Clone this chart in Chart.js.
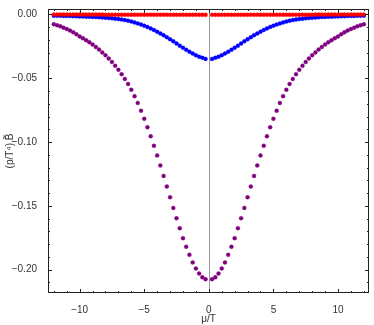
<!DOCTYPE html>
<html>
<head>
<meta charset="utf-8">
<script src="https://cdn.jsdelivr.net/npm/chart.js@4"></script>
<style>
body { margin: 0; background: #fff; }
#wrap { width: 374px; height: 325px; }
</style>
</head>
<body>
<div id="wrap"><canvas id="plot"></canvas></div>
<script>
var mu = [
    -12, -11.75, -11.5, -11.25, -11, -10.75, -10.5, -10.25,
    -10, -9.75, -9.5, -9.25, -9, -8.75, -8.5, -8.25,
    -8, -7.75, -7.5, -7.25, -7, -6.75, -6.5, -6.25,
    -6, -5.75, -5.5, -5.25, -5, -4.75, -4.5, -4.25,
    -4, -3.75, -3.5, -3.25, -3, -2.75, -2.5, -2.25,
    -2, -1.75, -1.5, -1.25, -1, -0.75, -0.5, -0.25,
    0.25, 0.5, 0.75, 1, 1.25, 1.5, 1.75, 2,
    2.25, 2.5, 2.75, 3, 3.25, 3.5, 3.75, 4,
    4.25, 4.5, 4.75, 5, 5.25, 5.5, 5.75, 6,
    6.25, 6.5, 6.75, 7, 7.25, 7.5, 7.75, 8,
    8.25, 8.5, 8.75, 9, 9.25, 9.5, 9.75, 10,
    10.25, 10.5, 10.75, 11, 11.25, 11.5, 11.75, 12
];

var redVals = [
    -0.0001, -0.0001, -0.0001, -0.0001, -0.0001, -0.0001, -0.0001, -0.0001,
    -0.0001, -0.0001, -0.0001, -0.0001, -0.0001, -0.0001, -0.0001, -0.0001,
    -0.0002, -0.0002, -0.0002, -0.0002, -0.0002, -0.0002, -0.0002, -0.0002,
    -0.0002, -0.0002, -0.0002, -0.0002, -0.0002, -0.0002, -0.0002, -0.0002,
    -0.0002, -0.0002, -0.0002, -0.0002, -0.0003, -0.0003, -0.0003, -0.0003,
    -0.0003, -0.0003, -0.0003, -0.0003, -0.0003, -0.0003, -0.0003, -0.0003,
    -0.0003, -0.0003, -0.0003, -0.0003, -0.0003, -0.0003, -0.0003, -0.0003,
    -0.0003, -0.0003, -0.0003, -0.0003, -0.0002, -0.0002, -0.0002, -0.0002,
    -0.0002, -0.0002, -0.0002, -0.0002, -0.0002, -0.0002, -0.0002, -0.0002,
    -0.0002, -0.0002, -0.0002, -0.0002, -0.0002, -0.0002, -0.0002, -0.0002,
    -0.0001, -0.0001, -0.0001, -0.0001, -0.0001, -0.0001, -0.0001, -0.0001,
    -0.0001, -0.0001, -0.0001, -0.0001, -0.0001, -0.0001, -0.0001, -0.0001
];

var blueVals = [
    -0.0009, -0.0009, -0.0010, -0.0011, -0.0011, -0.0012, -0.0013, -0.0014,
    -0.0015, -0.0016, -0.0017, -0.0018, -0.0019, -0.0020, -0.0022, -0.0024,
    -0.0026, -0.0028, -0.0030, -0.0033, -0.0036, -0.0040, -0.0044, -0.0049,
    -0.0055, -0.0062, -0.0070, -0.0079, -0.0088, -0.0098, -0.0109, -0.0122,
    -0.0135, -0.0149, -0.0162, -0.0178, -0.0194, -0.0210, -0.0227, -0.0245,
    -0.0261, -0.0277, -0.0292, -0.0306, -0.0319, -0.0331, -0.0340, -0.0348,
    -0.0348, -0.0340, -0.0331, -0.0319, -0.0306, -0.0292, -0.0277, -0.0261,
    -0.0245, -0.0227, -0.0210, -0.0194, -0.0178, -0.0162, -0.0149, -0.0135,
    -0.0122, -0.0109, -0.0098, -0.0088, -0.0079, -0.0070, -0.0062, -0.0055,
    -0.0049, -0.0044, -0.0040, -0.0036, -0.0033, -0.0030, -0.0028, -0.0026,
    -0.0024, -0.0022, -0.0020, -0.0019, -0.0018, -0.0017, -0.0016, -0.0015,
    -0.0014, -0.0013, -0.0012, -0.0011, -0.0011, -0.0010, -0.0009, -0.0009
];

var purpleVals = [
    -0.0076, -0.0084, -0.0093, -0.0103, -0.0114, -0.0126, -0.0140, -0.0155,
    -0.0172, -0.0186, -0.0201, -0.0217, -0.0235, -0.0254, -0.0275, -0.0297,
    -0.0320, -0.0345, -0.0373, -0.0402, -0.0434, -0.0468, -0.0505, -0.0545,
    -0.0590, -0.0640, -0.0693, -0.0754, -0.0818, -0.0884, -0.0955, -0.1029,
    -0.1105, -0.1183, -0.1265, -0.1349, -0.1433, -0.1516, -0.1597, -0.1676,
    -0.1753, -0.1821, -0.1884, -0.1943, -0.1991, -0.2031, -0.2060, -0.2075,
    -0.2075, -0.2060, -0.2031, -0.1991, -0.1943, -0.1884, -0.1821, -0.1753,
    -0.1676, -0.1597, -0.1516, -0.1433, -0.1349, -0.1265, -0.1183, -0.1105,
    -0.1029, -0.0955, -0.0884, -0.0818, -0.0754, -0.0693, -0.0640, -0.0590,
    -0.0545, -0.0505, -0.0468, -0.0434, -0.0402, -0.0373, -0.0345, -0.0320,
    -0.0297, -0.0275, -0.0254, -0.0235, -0.0217, -0.0201, -0.0186, -0.0172,
    -0.0155, -0.0140, -0.0126, -0.0114, -0.0103, -0.0093, -0.0084, -0.0076
];

var xTicks = [-10, -5, 0, 5, 10];
var yTicks = [0, -0.05, -0.1, -0.15, -0.2];

function pts(vals) {
    return mu.map(function (m, i) { return { x: m, y: vals[i] }; });
}

function minus(s) { return s.replace('-', '\u2212'); }

// frame with inward ticks on all four sides + gray line at mu = 0
var framePlugin = {
    id: 'frame',
    beforeDatasetsDraw: function (chart) {
        var c = chart.ctx, a = chart.chartArea;
        var xs = chart.scales.x;
        c.save();
        c.strokeStyle = '#999';
        c.lineWidth = 1;
        var x0 = Math.round(xs.getPixelForValue(0)) + 0.5;
        c.beginPath();
        c.moveTo(x0, a.top);
        c.lineTo(x0, a.bottom);
        c.stroke();
        c.restore();
    },
    afterDatasetsDraw: function (chart) {
        var c = chart.ctx, a = chart.chartArea;
        var xs = chart.scales.x, ys = chart.scales.y;
        c.save();
        c.strokeStyle = '#222';
        c.lineWidth = 1;
        c.strokeRect(a.left + 0.5, a.top + 0.5, a.right - a.left - 1, a.bottom - a.top - 1);
        c.beginPath();
        for (var v = -12; v <= 12; v++) {
            var len = (v % 5 === 0) ? 4 : 2;
            var px = Math.round(xs.getPixelForValue(v)) + 0.5;
            c.moveTo(px, a.bottom); c.lineTo(px, a.bottom - len);
            c.moveTo(px, a.top); c.lineTo(px, a.top + len);
        }
        for (var k = 0; k <= 21; k++) {
            var lenY = (k % 5 === 0) ? 4 : 2;
            var py = Math.round(ys.getPixelForValue(-k / 100)) + 0.5;
            c.moveTo(a.left, py); c.lineTo(a.left + lenY, py);
            c.moveTo(a.right, py); c.lineTo(a.right - lenY, py);
        }
        c.stroke();
        c.restore();
    }
};

var tickFont = { family: 'Liberation Sans', size: 10 };

new Chart(document.getElementById('plot').getContext('2d'), {
    type: 'scatter',
    data: {
        datasets: [{
            data: pts(redVals),
            backgroundColor: 'rgb(255, 0, 0)',
            borderColor: 'rgba(255, 0, 0, 0.35)',
            borderWidth: 1,
            pointRadius: 2
        }, {
            data: pts(blueVals),
            backgroundColor: 'rgb(0, 0, 255)',
            borderColor: 'rgba(0, 0, 255, 0.35)',
            borderWidth: 1,
            pointRadius: 2
        }, {
            data: pts(purpleVals),
            backgroundColor: 'rgb(128, 0, 128)',
            borderColor: 'rgba(128, 0, 128, 0.35)',
            borderWidth: 1,
            pointRadius: 2
        }]
    },
    options: {
        responsive: true,
        maintainAspectRatio: false,
        animation: false,
        layout: { padding: { top: 1, right: 2, left: 0, bottom: 0 } },
        plugins: { legend: { display: false }, tooltip: { enabled: false } },
        scales: {
            x: {
                type: 'linear',
                min: -12.45,
                max: 12.4,
                grid: { display: false },
                border: { display: false },
                afterBuildTicks: function (s) { s.ticks = xTicks.map(function (v) { return { value: v }; }); },
                afterFit: function (s) { s.height = 32; },
                ticks: {
                    padding: 3,
                    color: '#333',
                    font: tickFont,
                    maxRotation: 0,
                    callback: function (v) { return minus(String(v)); }
                },
                title: {
                    display: true,
                    text: '\u03bc/T',
                    color: '#333',
                    font: { family: 'Liberation Sans', size: 10 },
                    padding: { top: 0, bottom: 0 }
                }
            },
            y: {
                type: 'linear',
                min: -0.2183,
                max: 0.0043,
                grid: { display: false },
                border: { display: false },
                afterBuildTicks: function (s) { s.ticks = yTicks.map(function (v) { return { value: v }; }); },
                afterFit: function (s) { s.width = 48; },
                ticks: {
                    padding: 3,
                    color: '#333',
                    font: tickFont,
                    callback: function (v) { return minus(v.toFixed(2)); }
                },
                title: {
                    display: true,
                    text: '(p/T\u2074),B\u0303',
                    color: '#333',
                    font: { family: 'Liberation Sans', size: 10 },
                    padding: { top: 4, bottom: 0 }
                }
            }
        }
    },
    plugins: [framePlugin]
});
</script>
</body>
</html>
